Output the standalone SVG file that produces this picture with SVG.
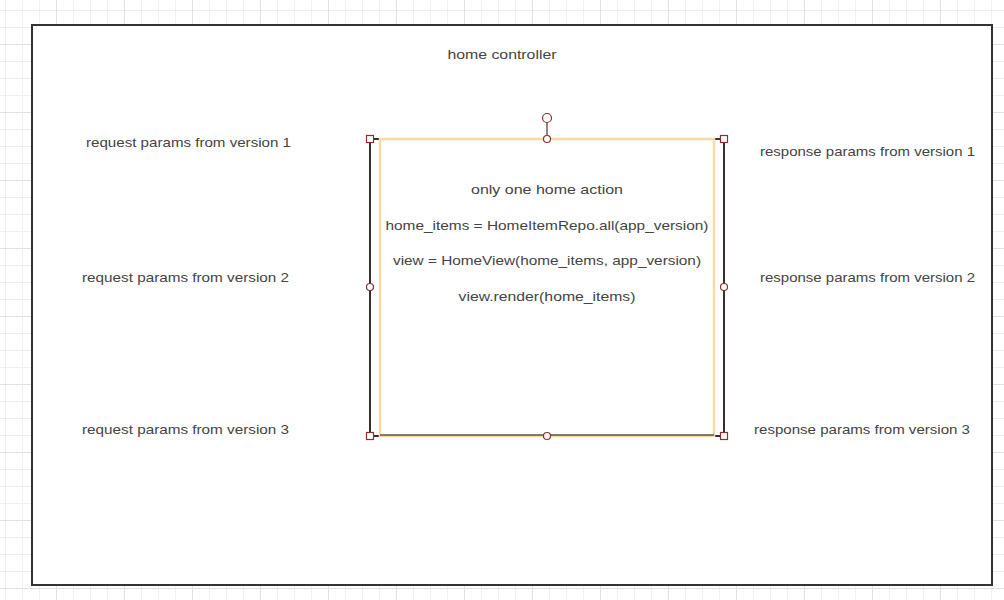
<svg xmlns="http://www.w3.org/2000/svg" width="1004" height="600" viewBox="0 0 1004 600">
<defs>
<pattern id="grid" patternUnits="userSpaceOnUse" x="5" y="10" width="68" height="68">
<path d="M0.5 0V68M17.5 0V68M34.5 0V68M0 0.5H68M17 17.5H0M0 17.5H68M0 51.5H68" stroke="#efefef" stroke-width="1" fill="none"/>
<path d="M51.5 0V68M0 34.5H68" stroke="#e2e2e2" stroke-width="1" fill="none"/>
</pattern>
<style>
.t{font-family:"Liberation Sans",Arial,sans-serif;font-size:13.5px;fill:#444}
.c{text-anchor:middle}
.h{fill:#fff;stroke:#8b2f2f;stroke-width:1.2}
</style>
</defs>
<rect width="1004" height="600" fill="#fff"/>
<rect width="1004" height="600" fill="url(#grid)"/>
<g id="home-controller">
<rect x="32" y="25" width="960" height="560" fill="#fff" stroke="#333" stroke-width="2"/>
<text class="t c" x="502" y="59" textLength="109" lengthAdjust="spacingAndGlyphs">home controller</text>
</g>
<g id="requests">
<text class="t" x="86" y="147" textLength="205" lengthAdjust="spacingAndGlyphs">request params from version 1</text>
<text class="t" x="82" y="282" textLength="207" lengthAdjust="spacingAndGlyphs">request params from version 2</text>
<text class="t" x="82" y="434" textLength="207" lengthAdjust="spacingAndGlyphs">request params from version 3</text>
</g>
<g id="responses">
<text class="t" x="760" y="156" textLength="215" lengthAdjust="spacingAndGlyphs">response params from version 1</text>
<text class="t" x="760" y="282" textLength="215" lengthAdjust="spacingAndGlyphs">response params from version 2</text>
<text class="t" x="754" y="434" textLength="216" lengthAdjust="spacingAndGlyphs">response params from version 3</text>
</g>
<g id="home-action">
<rect x="370" y="139" width="354" height="297" fill="#fff" stroke="#3a2d2d" stroke-width="2"/>
<rect x="380" y="139" width="334" height="297" fill="none" stroke="#f6daa4" stroke-width="2.5"/>
<line x1="380" y1="435" x2="714" y2="435" stroke="#5a5058" stroke-width="1.5"/>
<text class="t c" x="547" y="194" textLength="152" lengthAdjust="spacingAndGlyphs">only one home action</text>
<text class="t c" x="547" y="230" textLength="323" lengthAdjust="spacingAndGlyphs">home_items = HomeItemRepo.all(app_version)</text>
<text class="t c" x="547" y="265" textLength="308" lengthAdjust="spacingAndGlyphs">view = HomeView(home_items, app_version)</text>
<text class="t c" x="547" y="301" textLength="177" lengthAdjust="spacingAndGlyphs">view.render(home_items)</text>
</g>
<g id="selection-handles">
<line x1="547" y1="122" x2="547" y2="139" stroke="#5a2a2a" stroke-width="1.2"/>
<circle class="h" cx="547" cy="118" r="4.5"/>
<circle class="h" cx="547" cy="139" r="3.5"/>
<circle class="h" cx="547" cy="436" r="3.5"/>
<circle class="h" cx="370" cy="287" r="3.5"/>
<circle class="h" cx="724" cy="287" r="3.5"/>
<rect class="h" x="366.5" y="135.5" width="7" height="7"/>
<rect class="h" x="720.5" y="135.5" width="7" height="7"/>
<rect class="h" x="366.5" y="432.5" width="7" height="7"/>
<rect class="h" x="720.5" y="432.5" width="7" height="7"/>
</g>
</svg>
